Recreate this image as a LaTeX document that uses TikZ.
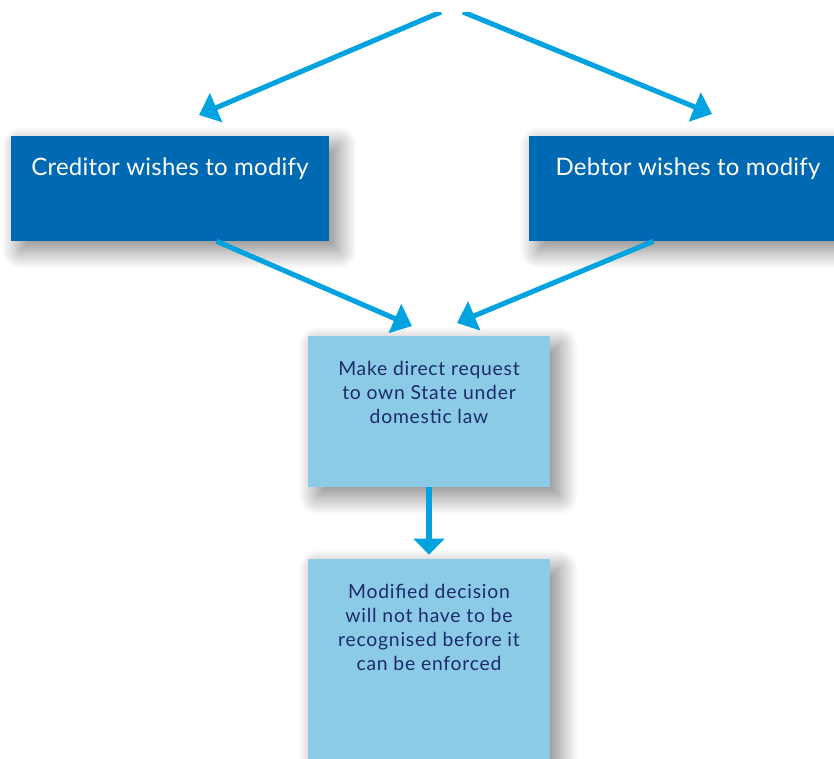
\documentclass[tikz,border=0pt]{standalone}
\usepackage{fontspec}
\setmainfont{Lato}
\usetikzlibrary{arrows.meta,positioning,shadows.blur}
\definecolor{darkbox}{HTML}{0069B4}
\definecolor{lightbox}{HTML}{8BCBE6}
\definecolor{flowblue}{HTML}{00A3DF}
\definecolor{navytext}{HTML}{1D2B6B}

\begin{document}
\begin{tikzpicture}[x=0.75pt, y=-0.75pt, >={Triangle[length=14pt,width=23pt]},
    box/.style={rectangle, inner sep=0pt,
        blur shadow={shadow xshift=7pt, shadow yshift=-7pt, shadow blur radius=14pt,
            shadow blur steps=25, shadow opacity=50}},
    dbox/.style={box, fill=darkbox, minimum width=238.5pt, minimum height=78.75pt},
    lbox/.style={box, fill=lightbox, minimum width=181.5pt},
    dtext/.style={anchor=base, inner sep=0pt, text=white,
        font=\fontsize{18}{22}\selectfont\addfontfeatures{LetterSpace=1}},
    ltext/.style={anchor=base, inner sep=0pt, text=navytext, align=center,
        font=\fontsize{14.5}{18}\selectfont\addfontfeatures{LetterSpace=4}},
    flow/.style={->, draw=flowblue, line width=3.8pt}]
    \useasboundingbox (0,0) rectangle (834,758);
    \clip (0,12) rectangle (834,758);

    % boxes
    \node[dbox] (creditor) at (170,188.5) {};
    \node[dbox] (debtor) at (688,188.5) {};
    \node[lbox, minimum height=113.25pt] (request) at (429,411.5) {};
    \node[lbox, minimum height=165.75pt] (modified) at (429,669.5) {};

    % texts (base is the last line)
    \node[dtext] (creditor-txt) at ([yshift=-30pt]creditor.north) {Creditor wishes to modify};
    \node[dtext] (debtor-txt) at ([yshift=-30pt]debtor.north) {Debtor wishes to modify};
    \node[ltext] (request-txt) at ([yshift=-66pt]request.north) {Make direct request\\to own State under\\domestic law};
    \node[ltext] (modified-txt) at ([yshift=-84pt]modified.north) {Modified decision\\will not have to be\\recognised before it\\can be enforced};

    % arrow ends
    \coordinate (top-l) at (441,12);
    \coordinate (top-r) at (463,12);
    \coordinate (creditor-in) at (199,115);
    \coordinate (debtor-in) at (712,114);
    \coordinate (request-inl) at (412,326);
    \coordinate (request-inr) at (457,323);

    \draw[flow] (top-l) -- (creditor-in);
    \draw[flow] (top-r) -- (debtor-in);
    \draw[flow] ([xshift=35pt]creditor.south) -- (request-inl);
    \draw[flow] ([xshift=-26pt]debtor.south) -- (request-inr);
    \draw[flow, >={Triangle[length=12pt,width=22.5pt]}, shorten >=3pt] (request.south) -- (modified.north);
\end{tikzpicture}
\end{document}
